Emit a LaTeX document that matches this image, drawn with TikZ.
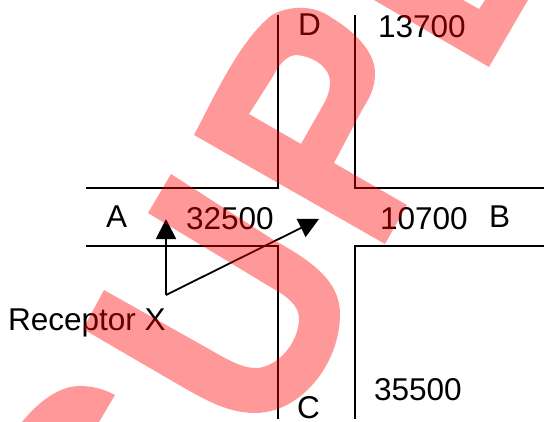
\documentclass[tikz,border=0pt]{standalone}
\usepackage{fontspec}
\setmainfont{Liberation Sans}
\usetikzlibrary{arrows.meta}
\tikzset{
  road/.style={line width=1.35pt, black, line cap=butt, line join=miter},
  pointer/.style={line width=1.35pt, black, -{Triangle[width=15pt,length=15pt]}},
  lbl/.style={anchor=base west, inner sep=0pt, outer sep=0pt, font=\fontsize{23.65pt}{28pt}\selectfont},
  stamp/.style={fill=red, opacity=0.4, draw=none}
}
\begin{document}
\begin{tikzpicture}[x=0.75pt,y=-0.75pt]
\useasboundingbox (0,0) rectangle (544,422);
\fill[white] (0,0) rectangle (544,422);
% road edges
\coordinate (nwTop) at (278,15);
\coordinate (nwCorner) at (278,188);
\coordinate (nwEnd) at (86,188);
\coordinate (neTop) at (355,15);
\coordinate (neCorner) at (355,188);
\coordinate (neEnd) at (544,188);
\coordinate (swEnd) at (86,246);
\coordinate (swCorner) at (278,246);
\coordinate (swBot) at (278,419);
\coordinate (seEnd) at (544,246);
\coordinate (seCorner) at (355,246);
\coordinate (seBot) at (355,419);
\draw[road] (nwTop) -- (nwCorner) -- (nwEnd);
\draw[road] (neTop) -- (neCorner) -- (neEnd);
\draw[road] (swEnd) -- (swCorner) -- (swBot);
\draw[road] (seEnd) -- (seCorner) -- (seBot);
% labels
\node[lbl] (D) at (298,35) {D};
\node[lbl] (n13700) at (378,37) {13700};
\node[lbl] (A) at (106,227) {A};
\node[lbl] (n32500) at (186,229) {32500};
\node[lbl] (n10700) at (380,229) {10700};
\node[lbl] (B) at (489,227) {B};
\node[lbl] (rx) at (8,330) {Receptor X};
\node[lbl] (n35500) at (374,400) {35500};
\node[lbl] (C) at (297,418) {C};
% pointers
\coordinate (apex) at (166,295);
\coordinate (tipA) at (166,219);
\coordinate (tipB) at (319,219);
\draw[pointer] (apex) -- (tipA);
\draw[pointer] (apex) -- (tipB);
% watermark
\fill[stamp] (104,290) -- (200,344) .. controls (225,358) and (240,368) .. (256,368)
  .. controls (275,368) and (299,345) .. (299,318)
  .. controls (299,305) and (285,295) .. (272,288)
  -- (148,213) -- (171,174) -- (272,239)
  .. controls (310,260) and (340,280) .. (340,314)
  .. controls (340,365) and (300,413) .. (255,413)
  .. controls (225,413) and (200,397) .. (167,378)
  -- (83,329) -- cycle;
\fill[stamp,even odd rule] (194,135) .. controls (215,95) and (240,40) .. (272,15)
  .. controls (290,5) and (315,5) .. (332,18)
  .. controls (360,35) and (375,55) .. (375,73)
  .. controls (375,90) and (368,100) .. (362,110)
  -- (334,163) -- (407,205) -- (385,244) -- cycle
  (249,114) -- (272,78) .. controls (280,62) and (288,55) .. (297,55)
  .. controls (315,57) and (330,68) .. (330,82)
  .. controls (330,92) and (326,100) .. (322,107)
  -- (301,144) -- cycle;
\fill[stamp] (374,0) -- (489,67) -- (528,0) -- (485,0) -- (479,9) -- (463,0) -- cycle;
\fill[stamp] (22,422) .. controls (40,400) and (60,386) .. (80,386)
  .. controls (92,386) and (104,389) .. (115,395) -- (99,422) -- cycle;
\end{tikzpicture}
\end{document}
